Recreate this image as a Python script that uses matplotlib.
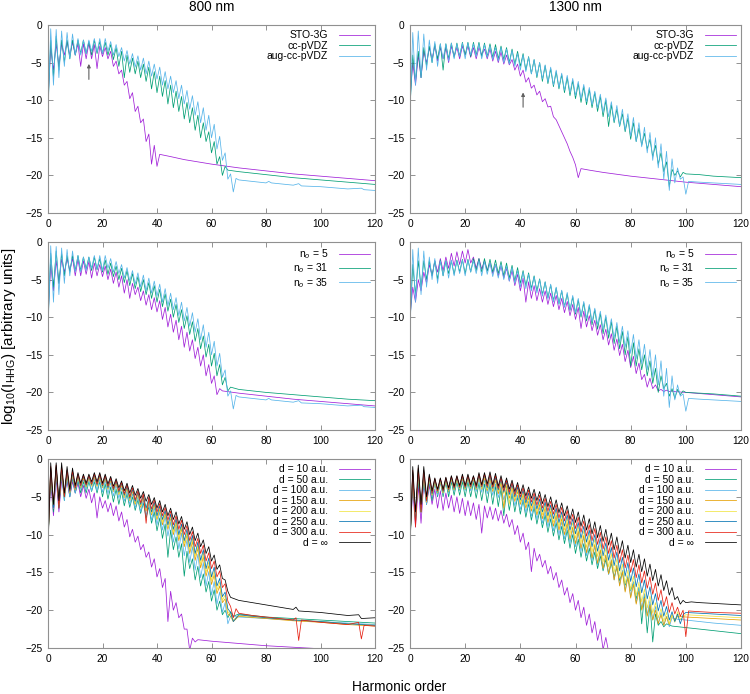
#!/usr/bin/env python3
"""HHG spectra: basis set, occupied orbitals and box size, at 800 and 1300 nm."""

import matplotlib
matplotlib.use("Agg")
import matplotlib.pyplot as plt

plt.rcParams["font.family"] = ["Liberation Sans", "DejaVu Sans"]
plt.rcParams["mathtext.fontset"] = "custom"
plt.rcParams["mathtext.rm"] = "Liberation Sans"
plt.rcParams["mathtext.it"] = "Liberation Sans:italic"

# gnuplot default line colours
C_VIOLET = "#a020d8"
C_GREEN = "#009e73"
C_SKY = "#56b4e9"
C_ORANGE = "#e69f00"
C_YELLOW = "#f0e442"
C_BLUE = "#0072b2"
C_RED = "#e51e10"
C_BLACK = "#000000"

WAVELENGTHS = ["800 nm", "1300 nm"]
X_TICKS = [0, 20, 40, 60, 80, 100, 120]
Y_TICKS = [-25, -20, -15, -10, -5, 0]

# Each spectrum: log10 intensity at harmonic order 0, 1, 2, ... then a sparse tail.
# ---- row 1, 800 nm: basis sets
A_STO = [-10, -3, -6, -2.5, -5.5, -2.5, -4, -2.2, -4, -2.3, -4, -2.5, -5.5, -2.5, -4.5, -2.4,
         -4.5, -2.6, -5.8, -2.8, -4.2, -3.0, -4.5, -3.5, -5.5, -4.8, -6.5, -6.0, -8.0, -7.5,
         -9.8, -9.0, -11.5, -10.8, -13.0, -12.5, -15.5, -14.5, -18.5, -16.0, -18.8, -17.2]
A_STO_TX = [45, 50, 60, 70, 80, 90, 100, 110, 120]
A_STO_TY = [-17.5, -17.9, -18.5, -19.0, -19.4, -19.8, -20.1, -20.4, -20.7]
A_CC = [-11, -2, -7, -1.5, -6, -2, -5, -2, -4.5, -2, -4, -2, -3.8, -2, -3.8, -2.2, -4, -2,
        -3.8, -2.2, -3.8, -2.3, -4, -2.6, -4.6, -3, -5.5, -3.5, -7, -4, -6.3, -4.4, -6.5, -4.8,
        -7, -5.2, -7.5, -5.6, -8.5, -6.2, -9, -6.8, -9.5, -7.4, -10.5, -8, -11, -8.8, -11.5,
        -9.5, -12.5, -10.3, -13, -11, -14, -12, -15, -13, -15.5, -14.2, -17, -15.5, -18.5,
        -17.5, -20, -18.8, -19.3]
A_CC_TX = [70, 80, 90, 100, 110, 120]
A_CC_TY = [-19.5, -19.9, -20.3, -20.6, -20.9, -21.2]
A_AUG = [-12, -0.5, -8, -0.6, -7, -0.8, -5.5, -1, -4.5, -1.2, -4, -1.8, -4, -2, -3.8, -2, -3.5,
         -1.8, -3.6, -1.8, -3.8, -1.8, -3.5, -2.2, -4, -2.6, -4.2, -3, -4.8, -3.4, -5.2, -3.8,
         -5.6, -4.1, -6, -4.4, -6.5, -4.8, -6.8, -5.2, -7.2, -5.6, -8, -6.2, -8.5, -6.8, -9,
         -7.4, -9.8, -8, -10.5, -8.7, -11.2, -9.4, -12, -10.2, -13, -11, -14, -12, -15, -13.2,
         -16.5, -14.8, -18, -17, -20.5, -19.8, -22.2, -20.4]
A_AUG_TX = [70, 75, 80, 81, 82, 90, 92, 93, 100, 110, 115, 116, 120]
A_AUG_TY = [-20.6, -20.8, -21.0, -20.8, -21.0, -21.3, -21.1, -21.4, -21.5, -21.8, -21.7, -21.9, -22.0]

# ---- row 1, 1300 nm: basis sets
B_STO = [-10, -5, -8, -4, -7, -3.5, -5, -3, -4.5, -2.8, -4.8, -3, -4.5, -3, -5, -2.8, -4.2, -3,
         -4.5, -2.8, -4, -2.8, -4.3, -3, -4.5, -3, -4, -3.2, -4.5, -3.2, -4.8, -3.5, -5, -3.6,
         -5.2, -4, -5.3, -4.6, -6, -5.2, -6.8, -6, -7.6, -7, -8.4, -8, -9.3, -8.8, -10.2, -9.8,
         -10.9, -10.8, -12.2, -12.6, -13.4, -14.2, -15, -15.8, -16.8, -17.6, -18.6, -20.3, -19.1]
B_STO_TX = [65, 70, 80, 90, 100, 110, 120]
B_STO_TY = [-19.3, -19.6, -20.1, -20.5, -20.9, -21.2, -21.5]
B_CC = [-11, -4, -7.5, -3.5, -7, -3, -5.5, -2.8, -5, -2.5, -4.5, -2.5, -6, -2.5, -4.5, -2.4,
        -4.3, -2.4, -4.2, -2.3, -4, -2.3, -4.2, -2.3, -4, -2.3, -4.2, -2.4, -4.2, -2.5, -4.3,
        -2.6, -4.5, -2.8, -4.6, -3, -5, -3.2, -5.2, -3.5, -5.5, -3.8, -6, -4.2, -6.5, -4.6, -7,
        -5, -7.5, -5.4, -7.8, -5.8, -8.2, -6.2, -8.5, -6.6, -9, -7, -9.4, -7.4, -9.8, -7.8,
        -10.3, -8.2, -10.6, -8.6, -11, -9, -11.5, -9.5, -12.2, -10, -13.5, -10.6, -13, -11.2,
        -13.5, -11.8, -14.2, -12.4, -15.2, -13, -15.5, -13.7, -16, -14.4, -16.5, -15.2, -17.5,
        -16, -18.5, -17, -19.5, -18.2, -21.5, -19.2, -20, -19.4, -20.2, -19.6, -19.8]
B_CC_TX = [105, 110, 120]
B_CC_TY = [-19.9, -20.1, -20.3]
B_AUG = [-12, -1, -8, -0.8, -7, -1.2, -6, -2, -5, -2.2, -5.5, -2.5, -4.5, -2.5, -4.8, -2.4,
         -4.5, -2.5, -4.2, -2.4, -4.5, -2.4, -4, -2.5, -4.2, -2.5, -4.5, -2.6, -4.3, -2.8, -4.6,
         -3, -4.8, -3, -5, -3.2, -5.2, -3.4, -5.5, -3.8, -6, -4, -6.2, -4.3, -6.5, -4.6, -6.8,
         -5, -7.2, -5.3, -7.6, -5.6, -8, -6, -8.3, -6.4, -8.7, -6.7, -9, -7.1, -9.4, -7.5,
         -9.8, -7.9, -10.2, -8.3, -10.6, -8.8, -11, -9.2, -11.6, -9.7, -12.2, -10.2, -12.8,
         -10.7, -13.4, -11.2, -14, -11.8, -14.8, -12.3, -15.5, -13, -16.2, -13.6, -17, -14.3,
         -18, -15, -19, -15.8, -20.5, -16.8, -22, -17.8, -21, -19, -20.5, -20.2, -22.5, -20.8]
B_AUG_TX = [105, 110, 120]
B_AUG_TY = [-20.9, -21.0, -21.2]

# ---- row 2, 800 nm: number of occupied orbitals
C_N5 = [-10, -3, -6.5, -2.5, -5.5, -2.3, -4, -2.2, -3.8, -2.2, -4.5, -2.3, -4.5, -2.5, -4.3,
        -2.6, -4.8, -2.8, -4.5, -3, -4.6, -3.2, -5, -3.6, -5.5, -4, -6, -4.5, -6.8, -5, -7.5,
        -5.5, -7, -6, -7.8, -6.5, -8.4, -7, -9, -7.4, -9.3, -7.8, -10.3, -8.7, -11.3, -9.6, -12,
        -10.4, -13, -11.2, -14, -12, -14.5, -13, -15.5, -14, -16.5, -15, -17.8, -16.3, -18.8,
        -17.8, -20.3, -19.5]
C_N5_TX = [64, 66, 70, 80, 90, 100, 110, 120]
C_N5_TY = [-19.8, -19.9, -20.1, -20.5, -20.9, -21.2, -21.5, -21.8]
C_N31 = [-11, -1.5, -6, -1.2, -5.5, -1.5, -4.5, -1.8, -4, -1.8, -3.8, -1.8, -3.8, -2, -3.6, -2,
         -3.8, -2, -3.7, -2.2, -4, -2.4, -4.3, -2.8, -4.6, -3.2, -5, -3.5, -5.4, -3.8, -5.8,
         -4.2, -6.2, -4.6, -6.6, -5, -7, -5.4, -7.5, -5.8, -8, -6.3, -8.6, -6.9, -9.2, -7.6, -10,
         -8.3, -10.7, -9, -11.5, -9.8, -12.3, -10.6, -13.2, -11.5, -14.2, -12.5, -15.3, -13.6,
         -16.5, -14.8, -17.8, -16.3, -19, -18, -19.8, -19.3]
C_N31_TX = [70, 80, 90, 100, 110, 115, 120]
C_N31_TY = [-19.6, -20.0, -20.3, -20.6, -20.9, -21.0, -21.1]
C_N35 = A_AUG
C_N35_TX = A_AUG_TX
C_N35_TY = A_AUG_TY

# ---- row 2, 1300 nm: number of occupied orbitals
D_N5 = [-10, -6, -8, -5, -6.5, -4, -5.5, -3, -4.5, -2.5, -4, -2.2, -3.8, -2, -3.5, -1.5, -3.2,
        -1.3, -3, -1.2, -2.8, -1, -2.8, -2, -3.5, -2.2, -3.6, -2.5, -3.8, -2.8, -4.2, -3, -4.5,
        -3.2, -4.8, -3.5, -5.2, -3.8, -5.8, -4.3, -6.5, -4.8, -8, -5.3, -7.5, -5.8, -7.8, -6.2,
        -8, -6.5, -8.3, -6.8, -8.6, -7.1, -9, -7.5, -9.4, -7.9, -9.8, -8.3, -10.3, -8.7, -11.5,
        -9.2, -11.3, -9.8, -11.8, -10.4, -12.4, -11, -13, -11.6, -13.7, -12.2, -14.4, -12.9,
        -15.1, -13.6, -15.9, -14.4, -16.7, -15.2, -17.5, -16.1, -18.3, -17.6, -19.3, -18.1,
        -19.5, -19, -19.8, -19.6, -19.9, -19.7, -19.9, -19.8, -19.9]
D_N5_TX = [100, 110, 120]
D_N5_TY = [-20.0, -20.3, -20.6]
D_N31 = [-11, -3, -7, -2.5, -6, -2.5, -5, -2.5, -4.5, -2.5, -5, -2.4, -4.5, -2.5, -4.2, -2.5,
         -4.3, -2.4, -4, -2.3, -4.2, -2.3, -4, -2.2, -3.8, -2.2, -4, -2.2, -3.9, -2.3, -4, -2.4,
         -4.2, -2.6, -4.5, -2.8, -4.8, -3.1, -5.2, -3.4, -5.5, -3.8, -5.8, -4.1, -6.2, -4.5,
         -6.5, -4.9, -7, -5.3, -7.4, -5.7, -7.8, -6.1, -8.2, -6.5, -8.6, -6.9, -9.1, -7.3, -9.6,
         -7.7, -10, -8.1, -10.5, -8.5, -11, -9, -11.6, -9.5, -12.2, -10, -12.8, -10.6, -13.5,
         -11.2, -14.2, -11.9, -15, -12.6, -16.5, -13.4, -16.5, -14.2, -17, -15, -17.8, -15.8,
         -18.8, -16.8, -20, -17.8, -19.5, -18.8, -20.5, -19.5, -20.8, -19.6, -20.3, -19.8, -20]
D_N31_TX = [105, 110, 120]
D_N31_TY = [-20.1, -20.2, -20.5]
D_N35 = B_AUG
D_N35_TX = B_AUG_TX
D_N35_TY = B_AUG_TY

# ---- row 3, 800 nm: box size d
E_D10 = [-10, -3, -7.5, -2.5, -7, -2.8, -4.5, -3, -5, -3, -4.5, -3.2, -5, -3.5, -5.2, -4, -5.8,
         -4.5, -7.8, -5, -6.5, -5.5, -7, -5.8, -7.5, -6.2, -8.2, -7, -9, -8, -10.3, -9.3, -11,
         -10.2, -12, -11.3, -13, -12.3, -14.3, -13.2, -15.6, -14.5, -17, -15.8, -21.5, -17.5,
         -20, -19, -21, -20.5, -22.5, -22.5, -25.3]
E_D10_TX = [53, 54, 55, 60, 70, 80, 90, 95, 100, 110, 120]
E_D10_TY = [-23.7, -24.2, -23.9, -24.1, -24.4, -24.7, -24.9, -25.0, -25.1, -25.2, -25.3]
E_D50 = [-11, -2, -7, -1.8, -6.5, -2, -5.5, -2.3, -5, -2.5, -4.5, -2.8, -4.5, -3, -4.5, -3,
         -4.3, -3, -4.5, -3, -5, -3.3, -5.3, -3.7, -5.7, -4, -6, -4.3, -6.2, -4.6, -6.4, -5,
         -6.8, -5.4, -7.2, -5.8, -7.8, -6.3, -8.5, -7, -9.5, -7.8, -10.5, -8.6, -13, -9.4, -12,
         -10.3, -13, -11.2, -15.5, -12.2, -14.5, -13.2, -16, -14.2, -16.8, -15.2, -17.6, -16.2,
         -18.8, -17.3, -20, -18.8, -20.6, -20, -21]
E_D50_TX = [67, 68, 70, 80, 90, 100, 110, 120]
E_D50_TY = [-20.2, -20.8, -20.5, -20.9, -21.1, -21.3, -21.5, -21.7]
E_D100 = [-11, -1.5, -6.5, -1.4, -6, -1.6, -5.5, -2, -5, -2.2, -4.5, -2.5, -4, -2.7, -4, -2.7,
          -4.2, -2.6, -4.2, -2.6, -4.4, -2.8, -4.6, -3.1, -4.9, -3.4, -5.2, -3.8, -5.6, -4.2, -6,
          -4.6, -6.5, -5, -7, -5.4, -7.5, -5.9, -8.1, -6.4, -8.7, -7, -9.4, -7.6, -10.2, -8.3,
          -11, -9, -11.9, -9.8, -12.8, -10.7, -13.7, -11.6, -14.7, -12.6, -15.7, -13.7, -16.8,
          -14.9, -18, -16.2, -19.2, -17.6, -20.3, -19, -21.8, -20.8]
E_D100_TX = [70, 80, 90, 100, 110, 120]
E_D100_TY = [-20.9, -21.1, -21.3, -21.5, -21.7, -21.9]
E_D150 = [-11, -1.4, -6.5, -1.2, -6, -1.4, -5, -1.8, -4.5, -2, -4.1, -2.3, -3.8, -2.5, -3.7,
          -2.5, -3.6, -2.3, -3.6, -2.3, -3.8, -2.5, -4, -2.8, -4.3, -3.1, -4.7, -3.4, -5.1,
          -3.8, -5.5, -4.2, -6, -4.6, -6.4, -5, -6.9, -5.5, -7.4, -6, -8, -6.6, -8.7, -7.2, -9.3,
          -7.8, -10, -8.5, -10.8, -9.2, -11.6, -10, -12.5, -10.9, -13.4, -11.8, -14.4, -12.9,
          -15.5, -14.1, -16.6, -15.3, -17.8, -16.8, -19, -18.5, -20.5, -20.8, -21.5]
E_D150_TX = [70, 80, 90, 100, 110, 120]
E_D150_TY = [-20.8, -21.1, -21.4, -21.6, -21.9, -22.1]
E_D200 = [-11, -1.3, -6.5, -1.1, -6, -1.3, -5, -1.7, -4.4, -1.9, -4, -2.2, -3.7, -2.4, -3.6,
          -2.4, -3.5, -2.2, -3.5, -2.2, -3.7, -2.4, -3.9, -2.7, -4.2, -3, -4.6, -3.3, -5, -3.7,
          -5.4, -4.1, -5.8, -4.5, -6.2, -4.9, -6.7, -5.4, -7.2, -5.9, -7.8, -6.4, -8.4, -7, -9,
          -7.6, -9.7, -8.2, -10.4, -8.9, -11.2, -9.7, -12, -10.5, -12.9, -11.4, -13.9, -12.4,
          -15, -13.6, -16.1, -14.8, -17.3, -16.3, -18.7, -18, -20.2, -20.5, -21.3]
E_D200_TX = [70, 80, 90, 100, 110, 120]
E_D200_TY = [-20.7, -21.0, -21.3, -21.5, -21.8, -22.0]
E_D250 = [-11, -1.2, -6.5, -1, -6, -1.2, -5, -1.6, -4.3, -1.8, -3.9, -2.1, -3.6, -2.3, -3.5,
          -2.3, -3.4, -2.1, -3.4, -2.1, -3.6, -2.3, -3.8, -2.6, -4.1, -2.9, -4.4, -3.2, -4.8,
          -3.6, -5.2, -4, -5.6, -4.4, -6, -4.8, -6.5, -5.2, -7, -5.7, -7.5, -6.2, -8, -6.8, -8.7,
          -7.3, -9.3, -7.9, -10, -8.6, -10.8, -9.3, -11.6, -10.1, -12.5, -11, -13.4, -12, -14.5,
          -13.1, -15.6, -14.3, -16.8, -15.8, -18.2, -17.6, -19.8, -20.3, -21.5]
E_D250_TX = [70, 80, 90, 100, 110, 120]
E_D250_TY = [-20.6, -21.0, -21.3, -21.5, -21.8, -22.0]
E_D300 = [-11, -1, -6, -0.8, -6.5, -1, -5, -1.5, -4.2, -1.6, -3.8, -2, -3.5, -2.2, -3.4, -2.2,
          -3.3, -2, -3.3, -2, -3.4, -2.2, -3.6, -2.5, -3.9, -2.8, -4.2, -3.1, -4.6, -3.4, -5,
          -3.8, -5.4, -4.2, -5.8, -4.6, -8.5, -5, -6.6, -5.4, -7, -5.9, -7.5, -6.4, -8.1, -6.9,
          -8.7, -7.5, -9.3, -8.1, -10, -8.8, -10.8, -9.6, -11.6, -10.5, -12.5, -11.4, -13.5,
          -12.4, -14.5, -13.5, -15.6, -14.8, -17, -16.5, -18.8, -19.5, -21]
E_D300_TX = [69, 70, 75, 80, 85, 90, 91, 92, 93, 100, 110, 114, 115, 116, 120]
E_D300_TY = [-19.8, -20.4, -20.7, -20.9, -21.1, -21.3, -21.0, -24.0, -21.3, -21.6, -21.9,
             -21.6, -23.8, -22.0, -22.1]
E_DINF = [-12, -0.5, -6, -0.5, -5.5, -0.5, -4.5, -1, -4, -1.2, -3.5, -1.8, -3.2, -2, -3.2, -2,
          -3, -1.8, -3, -1.8, -3.2, -2, -3.3, -2.3, -3.6, -2.6, -3.8, -2.9, -4.2, -3.2, -4.5,
          -3.5, -4.8, -3.9, -5.2, -4.3, -5.6, -4.7, -6, -5.1, -6.5, -5.5, -7, -6, -7.5, -6.5, -8,
          -7, -8.6, -7.6, -9.3, -8.3, -10, -9, -10.8, -9.8, -11.6, -10.7, -12.5, -11.6, -13.5,
          -12.7, -14.6, -14, -15.8, -16, -17.5, -18.3]
E_DINF_TX = [70, 75, 80, 85, 90, 91, 92, 100, 110, 114, 115, 120]
E_DINF_TY = [-18.7, -19.0, -19.3, -19.6, -19.9, -19.6, -20.1, -20.3, -20.7, -20.6, -21.1, -21.0]

# ---- row 3, 1300 nm: box size d
F_D10 = [-10, -4, -9, -3.5, -8.5, -3, -6, -3.5, -6, -4, -6.5, -4.2, -6.8, -4.5, -6.5, -4.8, -7,
         -5, -7.2, -5.2, -7.5, -5.5, -7.5, -5.8, -8, -6, -9.8, -6.2, -7.8, -6.3, -8, -6.5, -8.2,
         -6.8, -8.5, -7.3, -9, -8, -10, -8.8, -11, -9.8, -12, -11, -14.9, -11.8, -13.5, -12.6,
         -14.3, -13.4, -15.2, -14.2, -16, -15, -17, -16, -18, -17, -19, -17.8, -20, -18.7, -21,
         -19.6, -22, -20.5, -23, -21.5, -24, -22.5, -25.2, -23.6, -25.5]
F_D10_TX = []
F_D10_TY = []
F_D50 = [-11, -3, -8, -2.8, -7, -3, -6, -3, -5.5, -3, -5, -3, -5, -3, -5, -3, -4.8, -3, -4.8,
         -3, -5, -3, -5, -3.1, -5.2, -3.2, -5.5, -3.3, -5.8, -3.4, -6, -3.6, -6.3, -3.9, -7.5,
         -4.2, -6.8, -4.6, -7, -5, -7.3, -5.4, -7.7, -5.9, -8.1, -6.4, -8.6, -6.9, -9.1, -7.4,
         -9.7, -7.9, -10.2, -8.4, -10.7, -8.9, -11.2, -9.4, -11.8, -10, -12.5, -10.6, -13,
         -11.2, -13.5, -11.8, -14, -12.3, -14.5, -12.8, -14.8, -13.3, -15.2, -13.8, -15.6,
         -14.4, -16.1, -15, -16.7, -15.6, -17.4, -16.3, -18.5, -17, -21.8, -18, -23, -19.2,
         -24.2, -20.5, -22, -21.5, -22.2, -21.8]
F_D50_TX = [95, 100, 110, 120]
F_D50_TY = [-22.1, -22.3, -22.7, -23.1]
F_D100 = [-11, -2, -8, -1.8, -7, -2, -6, -2.8, -5, -3, -4.8, -3, -4.7, -2.9, -4.5, -2.8, -4.3,
          -2.8, -4.2, -2.7, -4.2, -2.7, -4.2, -2.8, -4.3, -2.7, -4.4, -2.8, -4.6, -3, -4.8,
          -3.3, -5.1, -3.6, -5.4, -4, -5.8, -4.4, -6.2, -4.8, -6.7, -5.2, -7.1, -5.6, -7.6, -6,
          -8, -6.4, -8.5, -6.9, -9, -7.3, -9.5, -7.8, -10, -8.3, -10.6, -8.8, -11.1, -9.3, -11.6,
          -9.8, -12.2, -10.3, -12.8, -10.9, -13.4, -11.5, -14, -12.1, -14.6, -12.7, -15.3,
          -13.3, -16, -14, -16.7, -14.7, -17.4, -15.4, -18.2, -16.2, -19, -17, -19.8, -17.8,
          -20.6, -18.7, -21.3, -19.5, -21.8, -20.3, -22, -20.8, -22.2, -21]
F_D100_TX = [97, 100, 110, 120]
F_D100_TY = [-21.2, -21.3, -21.7, -22.0]
F_D150 = [-11, -1.9, -8.5, -1.6, -7, -1.9, -5.7, -2.6, -4.8, -2.9, -4.5, -2.9, -4.5, -2.8, -4.3,
          -2.6, -4.1, -2.6, -4, -2.5, -4, -2.5, -3.9, -2.6, -4, -2.4, -4, -2.4, -4.2, -2.6, -4.3,
          -2.8, -4.6, -3.1, -6.5, -3.5, -5.2, -3.9, -5.6, -4.3, -6, -4.7, -6.5, -5.1, -6.9, -5.5,
          -7.4, -6, -7.9, -6.4, -8.4, -6.9, -8.9, -7.4, -9.4, -7.9, -10, -8.4, -10.6, -9, -11.2,
          -9.5, -11.8, -10.1, -12.4, -10.7, -13.1, -11.3, -13.8, -12, -14.5, -12.7, -15.2,
          -13.4, -16, -14.1, -16.8, -14.9, -17.6, -15.7, -18.4, -16.6, -19.2, -17.5, -20, -18.4,
          -20.8, -19.3, -21.3, -20, -21.8, -20.6, -22, -20.9, -21.9, -20.6, -21.4, -20.8]
F_D150_TX = [100, 105, 110, 120]
F_D150_TY = [-20.9, -21.0, -21.1, -21.3]
F_D200 = [-11, -1.8, -8.5, -1.5, -7, -1.8, -5.6, -2.5, -4.7, -2.8, -4.4, -2.8, -4.4, -2.7, -4.2,
          -2.5, -4, -2.5, -3.9, -2.4, -3.9, -2.4, -3.8, -2.5, -3.9, -2.3, -3.9, -2.3, -4, -2.4,
          -4.1, -2.6, -4.3, -2.9, -4.6, -3.2, -6, -3.6, -5.3, -4, -5.7, -4.4, -6.1, -4.8, -6.5,
          -5.2, -7, -5.6, -7.4, -6, -7.9, -6.5, -8.4, -6.9, -8.9, -7.4, -9.4, -7.9, -9.9, -8.4,
          -10.5, -8.9, -11.1, -9.5, -11.7, -10, -12.3, -10.6, -12.9, -11.2, -13.6, -11.8, -14.3,
          -12.5, -15, -13.2, -15.7, -13.9, -16.5, -14.7, -17.3, -15.5, -18.1, -16.3, -18.9,
          -17.2, -19.7, -18.1, -20.4, -19, -21, -19.8, -21.5, -20.3, -21.8, -20.6, -21.6, -20.2,
          -21.2]
F_D200_TX = [100, 105, 110, 120]
F_D200_TY = [-20.6, -20.7, -20.8, -21.0]
F_D250 = [-11, -1.7, -8.5, -1.4, -7, -1.7, -5.5, -2.4, -4.6, -2.7, -4.3, -2.7, -4.3, -2.6, -4.1,
          -2.4, -3.9, -2.4, -3.8, -2.3, -3.8, -2.3, -3.7, -2.4, -3.8, -2.2, -3.7, -2.1, -3.8,
          -2.2, -3.9, -2.4, -4.1, -2.7, -4.4, -3, -4.7, -3.3, -5, -3.7, -5.4, -4.1, -5.8, -4.5,
          -6.2, -4.9, -6.6, -5.3, -7, -5.7, -7.5, -6.1, -7.9, -6.5, -8.4, -7, -8.9, -7.4, -9.4,
          -7.9, -9.9, -8.4, -10.5, -8.9, -11, -9.4, -11.6, -10, -12.2, -10.5, -12.8, -11.1,
          -13.4, -11.7, -14.1, -12.3, -14.8, -13, -15.5, -13.7, -16.2, -14.4, -16.9, -15.2,
          -17.7, -16, -18.5, -16.9, -19.3, -17.8, -20.1, -18.7, -20.8, -19.5, -21.3, -20.2,
          -21.5, -20.5, -21.8, -20.6]
F_D250_TX = [100, 105, 110, 120]
F_D250_TY = [-20.3, -20.4, -20.5, -20.7]
F_D300 = [-11, -1.5, -9, -1.2, -7, -1.5, -5.5, -2.2, -4.5, -2.6, -4.2, -2.6, -4.2, -2.5, -4,
          -2.3, -3.8, -2.3, -3.7, -2.2, -3.7, -2.2, -3.6, -2.3, -3.7, -2, -3.6, -2, -3.6, -2,
          -3.7, -2.2, -3.9, -2.5, -4.2, -2.8, -4.4, -3.1, -4.7, -3.4, -5, -3.8, -5.4, -4.1,
          -5.7, -4.5, -6.1, -4.8, -6.5, -5.2, -6.9, -5.6, -7.3, -6, -7.8, -6.4, -8.2, -6.8,
          -8.7, -7.3, -9.2, -7.7, -9.7, -8.2, -10.2, -8.7, -10.8, -9.2, -11.3, -9.7, -11.9,
          -10.3, -12.5, -10.8, -13.1, -11.4, -13.7, -12, -14.4, -12.7, -15, -13.3, -15.7, -14,
          -16.4, -14.8, -17.1, -15.6, -17.9, -16.4, -18.7, -17.3, -19.5, -18.2, -20.3, -19,
          -20.5, -19.6, -20.8, -20, -23.5]
F_D300_TX = [101, 105, 110, 120]
F_D300_TY = [-20.1, -20.2, -20.3, -20.4]
F_DINF = [-12, -1, -7, -0.8, -6, -1, -5, -2, -4.2, -2.5, -4, -2.5, -4, -2.4, -3.8, -2.2, -3.6,
          -2.2, -3.5, -2, -3.5, -2, -3.4, -2.2, -3.5, -1.8, -3.4, -1.8, -3.3, -1.7, -3.4, -1.9,
          -3.6, -2.2, -3.8, -2.5, -4, -2.8, -4.3, -3.1, -4.6, -3.4, -4.9, -3.7, -5.2, -4, -5.5,
          -4.3, -5.9, -4.7, -6.3, -5, -6.7, -5.4, -7.1, -5.8, -7.5, -6.2, -8, -6.6, -8.4, -7,
          -8.9, -7.4, -9.4, -7.9, -9.9, -8.3, -10.4, -8.8, -10.9, -9.3, -11.4, -9.8, -12, -10.3,
          -12.5, -10.8, -13.1, -11.4, -13.7, -12, -14.3, -12.6, -14.9, -13.2, -15.5, -13.9,
          -16.1, -14.6, -16.8, -15.3, -17.4, -16.1, -18, -17, -18.6, -18.2, -19.2, -18.7, -19]
F_DINF_TX = [102, 105, 110, 120]
F_DINF_TY = [-18.9, -19.0, -19.1, -19.3]

BASIS_LABELS = ["STO-3G", "cc-pVDZ", "aug-cc-pVDZ"]
ORBITAL_LABELS = ["n$_o$ = 5", "n$_o$ = 31", "n$_o$ = 35"]
BOX_LABELS = ["d = 10 a.u.", "d = 50 a.u.", "d = 100 a.u.", "d = 150 a.u.",
              "d = 200 a.u.", "d = 250 a.u.", "d = 300 a.u.", "d = \u221e"]

THREE_COLORS = [C_VIOLET, C_GREEN, C_SKY]
EIGHT_COLORS = [C_VIOLET, C_GREEN, C_SKY, C_ORANGE, C_YELLOW, C_BLUE, C_RED, C_BLACK]

# arrows marking a feature in the top row: (harmonic, tail y, head y)
ARROW_800 = (15, -7.6, -4.8)
ARROW_1300 = (41, -11.3, -8.6)


def spectrum(head, tail_x, tail_y):
    x = list(range(len(head))) + list(tail_x)
    y = list(head) + list(tail_y)
    return x, y


def style_axes(ax):
    ax.set_xlim(0, 120)
    ax.set_ylim(-25, 0)
    ax.set_xticks(X_TICKS)
    ax.set_yticks(Y_TICKS)
    ax.tick_params(direction="in", length=3.5, width=0.6, color="#808080",
                   labelsize=7.3, pad=4, top=True, right=True)
    for sp in ax.spines.values():
        sp.set_color("#909090")
        sp.set_linewidth(0.8)


def draw_panel(ax, curves, labels, colors):
    for (head, tx, ty), label, color in zip(curves, labels, colors):
        x, y = spectrum(head, tx, ty)
        ax.plot(x, y, color=color, lw=0.55, label=label)
    style_axes(ax)
    ax.legend(loc="upper right", frameon=False, markerfirst=False, fontsize=7.5,
              handlelength=3.0, handletextpad=1.0, labelspacing=0.05,
              borderaxespad=0.3, borderpad=0.2)


fig = plt.figure(figsize=(7.5, 6.94), dpi=100)
W, H = 750.0, 694.0
cols = [(48, 375), (410, 741)]
rows = [(25, 213), (242, 430), (459, 648)]
axes = [[fig.add_axes([l / W, 1 - b / H, (r - l) / W, (b - t) / H]) for (l, r) in cols]
        for (t, b) in rows]

draw_panel(axes[0][0],
           [(A_STO, A_STO_TX, A_STO_TY), (A_CC, A_CC_TX, A_CC_TY), (A_AUG, A_AUG_TX, A_AUG_TY)],
           BASIS_LABELS, THREE_COLORS)
draw_panel(axes[0][1],
           [(B_STO, B_STO_TX, B_STO_TY), (B_CC, B_CC_TX, B_CC_TY), (B_AUG, B_AUG_TX, B_AUG_TY)],
           BASIS_LABELS, THREE_COLORS)
draw_panel(axes[1][0],
           [(C_N5, C_N5_TX, C_N5_TY), (C_N31, C_N31_TX, C_N31_TY), (C_N35, C_N35_TX, C_N35_TY)],
           ORBITAL_LABELS, THREE_COLORS)
draw_panel(axes[1][1],
           [(D_N5, D_N5_TX, D_N5_TY), (D_N31, D_N31_TX, D_N31_TY), (D_N35, D_N35_TX, D_N35_TY)],
           ORBITAL_LABELS, THREE_COLORS)
draw_panel(axes[2][0],
           [(E_D10, E_D10_TX, E_D10_TY), (E_D50, E_D50_TX, E_D50_TY),
            (E_D100, E_D100_TX, E_D100_TY), (E_D150, E_D150_TX, E_D150_TY),
            (E_D200, E_D200_TX, E_D200_TY), (E_D250, E_D250_TX, E_D250_TY),
            (E_D300, E_D300_TX, E_D300_TY), (E_DINF, E_DINF_TX, E_DINF_TY)],
           BOX_LABELS, EIGHT_COLORS)
draw_panel(axes[2][1],
           [(F_D10, F_D10_TX, F_D10_TY), (F_D50, F_D50_TX, F_D50_TY),
            (F_D100, F_D100_TX, F_D100_TY), (F_D150, F_D150_TX, F_D150_TY),
            (F_D200, F_D200_TX, F_D200_TY), (F_D250, F_D250_TX, F_D250_TY),
            (F_D300, F_D300_TX, F_D300_TY), (F_DINF, F_DINF_TX, F_DINF_TY)],
           BOX_LABELS, EIGHT_COLORS)

for ax, (hx, y0, y1) in [(axes[0][0], ARROW_800), (axes[0][1], ARROW_1300)]:
    ax.annotate("", xy=(hx, y1), xytext=(hx, y0),
                arrowprops=dict(arrowstyle="-|>", color="#606060", lw=0.8,
                                mutation_scale=5))

for (l, r), name in zip(cols, WAVELENGTHS):
    fig.text((l + r) / 2 / W, 1 - 7 / H, name, ha="center", va="center", fontsize=9.8)

fig.text(9 / W, 1 - 336 / H, "log$_{10}$(I$_{\\rm HHG}$) [arbitrary units]",
         rotation=90, ha="center", va="center", fontsize=11)
fig.text(399 / W, 1 - 687 / H, "Harmonic order", ha="center", va="center", fontsize=9.8)

fig.savefig("out.png", dpi=100)
